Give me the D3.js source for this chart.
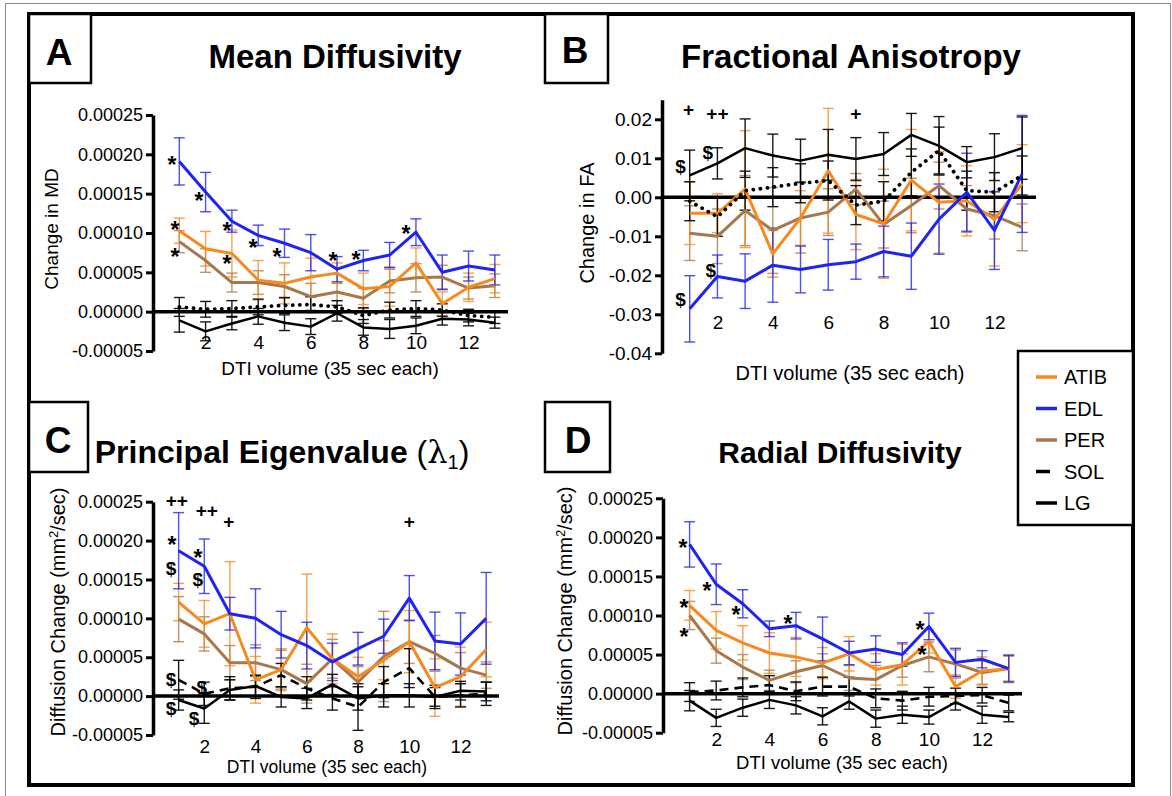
<!DOCTYPE html>
<html>
<head>
<meta charset="UTF-8">
<title>DTI change per muscle</title>
<script src="https://d3js.org/d3.v7.min.js"></script>
<style>
  body { margin: 0; background: #fff; }
  svg { display: block; }
</style>
</head>
<body>
<script>
const FONT = '"Liberation Sans", Arial, Helvetica, sans-serif';

const volumes = d3.range(1, 14);
const xTickValues = [2, 4, 6, 8, 10, 12];
const muscles = ["ATIB", "EDL", "PER", "SOL", "LG"];
const muscleColors = ["#f7891e", "#1f24f2", "#a8774b", "#000000", "#000000"];

// A - Mean Diffusivity (x1e-5)
const mdATIB = [10.3, 8.0, 7.4, 4.0, 3.6, 4.4, 4.9, 2.9, 3.2, 6.2, 1.0, 3.1, 4.2];
const mdATIBErr = [1.6, 2.2, 3.0, 2.5, 2.6, 2.4, 1.3, 2.0, 2.5, 1.9, 1.5, 1.8, 1.8];
const mdEDL = [19.1, 15.2, 11.5, 9.7, 8.7, 7.5, 5.4, 6.5, 7.2, 10.1, 5.0, 5.8, 5.3];
const mdEDLErr = [3.0, 2.5, 1.4, 1.3, 1.8, 2.3, 1.6, 1.3, 1.6, 1.7, 2.2, 1.9, 1.9];
const mdPER = [8.9, 6.5, 3.7, 3.7, 3.2, 1.9, 2.5, 1.7, 3.9, 4.3, 4.4, 3.0, 3.3];
const mdPERErr = [1.4, 1.5, 1.2, 1.5, 1.5, 1.7, 1.1, 1.3, 1.5, 1.8, 1.5, 1.4, 1.5];
const mdSOL = [0.6, 0.3, 0.4, 0.6, 0.8, 0.9, 0.6, -0.5, 0.2, 0.4, 0.2, -0.5, -0.7];
const mdSOLErr = [1.2, 1.0, 1.0, 1.0, 1.0, 1.0, 0.8, 1.0, 1.0, 1.0, 0.8, 0.8, 0.8];
const mdLG = [-1.1, -2.5, -1.5, -0.6, -1.4, -1.9, -0.2, -2.0, -2.2, -1.8, -0.9, -1.0, -1.4];
const mdLGErr = [1.5, 1.2, 0.8, 1.0, 1.0, 1.0, 1.0, 1.0, 1.2, 1.0, 0.8, 0.8, 0.7];
const mdTicks = [-5, 0, 5, 10, 15, 20, 25];
const mdMarks = [[0.72, 19.4, "*"], [1.75, 14.9, "*"], [2.81, 11.0, "*"], [3.8, 8.9, "*"],
  [4.71, 7.8, "*"], [6.84, 7.2, "*"], [7.72, 7.4, "*"], [9.62, 10.7, "*"],
  [0.84, 11.2, "*"], [2.81, 6.8, "*"], [0.84, 7.7, "*"]];

// B - Fractional Anisotropy (x1e-3)
const faATIB = [-4.1, -4.1, 2.1, -14.5, -5.3, 6.8, -4.4, -6.8, 4.4, -1.3, -0.9, -5.6, 3.5];
const faATIBErr = [8.0, 5.0, 15.0, 6.0, 7.0, 16.0, 9.0, 14.0, 13.0, 13.0, 9.0, 12.0, 10.0];
const faEDL = [-28.6, -20.3, -21.5, -17.4, -18.5, -17.3, -16.5, -13.9, -15.1, -5.6, 1.3, -8.5, 6.0];
const faEDLErr = [8.5, 5.5, 7.0, 9.5, 6.0, 6.5, 4.5, 6.5, 8.5, 9.0, 10.0, 10.0, 15.0];
const faPER = [-9.2, -10.0, -3.4, -8.5, -5.3, -3.8, 2.1, -7.0, -2.1, 3.0, -3.0, -4.7, -7.7];
const faPERErr = [7, 7, 9, 11, 9, 6, 4, 6, 7, 6, 6, 6, 6];
const faSOL = [-1.0, -5.0, 1.7, 2.6, 3.6, 4.3, -2.0, -1.0, 6.4, 12.0, 1.7, 1.3, 5.6];
const faSOLErr = [5, 5, 5, 5, 5, 5, 5, 5, 6, 6, 5, 5, 5];
const faLG = [5.6, 8.7, 12.6, 10.7, 9.4, 10.9, 9.8, 11.1, 16.0, 13.2, 9.0, 10.3, 12.6];
const faLGErr = [6.5, 4.0, 7.5, 5.5, 5.5, 6.5, 5.5, 5.5, 5.5, 7.5, 4.0, 6.0, 8.0];
const faTicks = [-40, -30, -20, -10, 0, 10, 20];
const faMarks = [[0.96, 22.5, "+"], [2.0, 21.5, "++"], [7.0, 21.5, "+"], [0.67, 8.1, "$"],
  [1.65, 11.5, "$"], [1.76, -18.8, "$"], [0.67, -26.2, "$"]];

// C - Principal Eigenvalue (x1e-5)
const peATIB = [12.1, 9.3, 10.6, 2.1, 3.4, 8.8, 4.8, 2.5, 4.6, 7.0, 1.1, 2.5, 6.0];
const peATIBErr = [2.4, 3.0, 6.7, 3.0, 2.7, 6.9, 3.2, 2.5, 2.5, 4.0, 3.7, 3.8, 3.5];
const peEDL = [18.7, 16.7, 10.6, 10.0, 7.9, 6.5, 4.4, 6.1, 7.7, 12.6, 7.1, 6.7, 10.0];
const peEDLErr = [4.9, 3.5, 2.1, 3.8, 3.0, 3.0, 2.4, 2.1, 2.2, 2.9, 3.7, 4.0, 5.9];
const pePER = [9.9, 8.0, 4.3, 4.3, 3.4, 1.6, 4.8, 1.8, 5.1, 7.0, 5.5, 3.6, 2.7];
const pePERErr = [2.9, 2.2, 2.2, 2.3, 2.5, 2.5, 2.5, 2.0, 5.8, 2.8, 2.3, 2.0, 1.7];
const peSOL = [2.1, 0.3, 1.0, 1.2, 2.7, 1.0, -0.3, -1.4, 1.8, 3.6, -0.1, 0.1, 0.3];
const peSOLErr = [2.5, 1.5, 1.5, 1.5, 1.5, 1.5, 1.5, 3.0, 2.0, 2.5, 1.5, 1.5, 1.5];
const peLG = [-0.5, -1.6, 0.8, 1.3, -0.1, -0.3, 1.5, -0.3, 0.1, 0.1, -0.1, 0.7, 0.6];
const peLGErr = [1.3, 1.9, 1.3, 1.3, 1.3, 1.3, 1.3, 1.5, 1.5, 1.5, 1.2, 1.2, 1.2];
const peTicks = [-5, 0, 5, 10, 15, 20, 25];
const peMarks = [[0.93, 25.1, "++"], [2.1, 23.8, "++"], [2.96, 22.4, "+"], [10.0, 22.4, "+"],
  [0.74, 20.3, "*"], [0.7, 16.4, "$"], [1.75, 18.6, "*"], [1.75, 15.1, "$"],
  [0.7, 2.2, "$"], [1.9, 1.2, "$"], [0.7, -1.6, "$"], [1.6, -2.8, "$"]];

// D - Radial Diffusivity (x1e-5)
const rdATIB = [11.3, 8.1, 6.5, 5.2, 4.7, 3.9, 5.1, 3.1, 3.7, 6.7, 0.9, 2.9, 3.2];
const rdATIBErr = [1.9, 2.4, 2.2, 2.6, 2.5, 2.0, 2.2, 2.0, 2.6, 1.5, 1.5, 1.8, 1.8];
const rdEDL = [19.1, 14.0, 11.5, 8.3, 8.7, 7.0, 5.2, 5.7, 5.0, 8.6, 4.0, 4.4, 3.2];
const rdEDLErr = [2.9, 2.6, 1.8, 1.0, 1.7, 2.8, 1.5, 1.7, 1.5, 1.7, 1.8, 1.1, 1.7];
const rdPER = [10.0, 5.5, 3.4, 1.7, 2.8, 3.6, 2.0, 1.8, 3.6, 4.7, 3.8, 2.7, 3.2];
const rdPERErr = [1.8, 1.6, 1.6, 1.3, 1.4, 1.5, 1.6, 1.8, 1.5, 1.9, 1.8, 1.5, 1.6];
const rdSOL = [0.2, 0.4, 0.8, 1.1, 0.3, 0.9, 0.9, -0.6, -0.9, -0.4, -0.3, -0.2, -1.2];
const rdSOLErr = [1.2, 1.2, 1.2, 1.2, 1.2, 1.2, 1.2, 1.2, 1.2, 1.2, 1.0, 1.0, 1.0];
const rdLG = [-0.9, -3.1, -1.8, -0.8, -1.5, -2.9, -1.0, -3.2, -2.7, -3.0, -1.1, -2.7, -3.0];
const rdLGErr = [1.3, 1.1, 1.1, 1.1, 1.1, 1.1, 1.0, 1.1, 1.1, 0.9, 1.0, 1.1, 0.6];
const rdTicks = [-5, 0, 5, 10, 15, 20, 25];
const rdMarks = [[0.75, 19.5, "*"], [1.65, 14.0, "*"], [2.74, 10.9, "*"], [4.7, 9.7, "*"],
  [9.66, 8.9, "*"], [0.79, 11.7, "*"], [0.79, 8.0, "*"], [9.74, 5.8, "*"]];

const panels = [
  { letter: "A", title: "Mean Diffusivity", yLabel: "Change in MD", unit: 1e-5, digits: 5,
    series: [mdATIB, mdEDL, mdPER, mdSOL, mdLG], errors: [mdATIBErr, mdEDLErr, mdPERErr, mdSOLErr, mdLGErr],
    ticks: mdTicks, marks: mdMarks, solDash: "dot",
    left: 153, right: 508, yDomain: [-5, 25], yRange: [351, 115], xLabAt: -3.9,
    box: [29, 14, 62, 69], letterPos: [59, 65], titlePos: [335, 68], titleFont: 33,
    yLabPos: [51, 229], xLabPos: [330, 368], tickFont: 18, xTickFont: 19, labFont: 19 },
  { letter: "B", title: "Fractional Anisotropy", yLabel: "Change in FA", unit: 1e-3, digits: 2,
    series: [faATIB, faEDL, faPER, faSOL, faLG], errors: [faATIBErr, faEDLErr, faPERErr, faSOLErr, faLGErr],
    ticks: faTicks, marks: faMarks, solDash: "dot",
    left: 662, right: 1036, yDomain: [-40, 25], yRange: [353.3, 99.8], xLabAt: -32.1,
    box: [545, 14, 63, 69], letterPos: [575, 63], titlePos: [851, 68], titleFont: 33,
    yLabPos: [587, 223], xLabPos: [850, 373], tickFont: 19, xTickFont: 19, labFont: 20 },
  { letter: "C", title: "Principal Eigenvalue", yLabel: "Diffusion Change", unit: 1e-5, digits: 5,
    series: [peATIB, peEDL, pePER, peSOL, peLG], errors: [peATIBErr, peEDLErr, pePERErr, peSOLErr, peLGErr],
    ticks: peTicks, marks: peMarks, solDash: "dash",
    left: 153, right: 499, yDomain: [-5, 25], yRange: [735, 501.7], xLabAt: -6.4,
    box: [29, 402, 59, 70], letterPos: [58, 453], titlePos: [282, 463], titleFont: 32,
    yLabPos: [58, 612], xLabPos: [327, 767], tickFont: 18, xTickFont: 19, labFont: 20 },
  { letter: "D", title: "Radial Diffusivity", yLabel: "Diffusion Change", unit: 1e-5, digits: 5,
    series: [rdATIB, rdEDL, rdPER, rdSOL, rdLG], errors: [rdATIBErr, rdEDLErr, rdPERErr, rdSOLErr, rdLGErr],
    ticks: rdTicks, marks: rdMarks, solDash: "dash",
    left: 663, right: 1022, yDomain: [-5, 25], yRange: [732.7, 498.3], xLabAt: -5.9,
    box: [545, 402, 65, 70], letterPos: [578, 453], titlePos: [840, 463], titleFont: 30,
    yLabPos: [565, 611], xLabPos: [842, 763], tickFont: 18, xTickFont: 19, labFont: 20 }
];

const W = 1172, H = 796;
const svg = d3.select("body").append("svg")
  .attr("width", W).attr("height", H)
  .style("font-family", FONT);

// thin outer page frame
svg.append("rect")
  .attr("x", 5.5).attr("y", 3.5).attr("width", 1165).attr("height", 800)
  .attr("fill", "none").attr("stroke", "#8a8a8a").attr("stroke-width", 1);

// thick figure frame
svg.append("rect")
  .attr("x", 29).attr("y", 14).attr("width", 1104).attr("height", 771)
  .attr("fill", "#fff").attr("stroke", "#000").attr("stroke-width", 4);

function drawPanel(p) {
  const g = svg.append("g");
  const x = d3.scaleLinear().domain([0, 13.5]).range([p.left, p.right]);
  const y = d3.scaleLinear().domain(p.yDomain).range(p.yRange);

  // y axis
  const yAxis = d3.axisLeft(y)
    .tickValues(p.ticks)
    .tickSize(7)
    .tickSizeOuter(0)
    .tickPadding(3)
    .tickFormat(d => (d * p.unit).toFixed(p.digits));
  const ya = g.append("g")
    .attr("transform", `translate(${p.left},0)`)
    .call(yAxis)
    .attr("font-family", FONT)
    .attr("font-size", p.tickFont);
  ya.select(".domain").attr("stroke-width", 3.5);
  ya.selectAll(".tick line").attr("stroke-width", 3);
  ya.selectAll(".tick text").attr("fill", "#000");

  // x tick labels
  const xa = g.append("g")
    .attr("transform", `translate(0,${y(p.xLabAt)})`)
    .call(d3.axisBottom(x).tickValues(xTickValues).tickSize(0).tickPadding(0))
    .attr("font-family", FONT)
    .attr("font-size", p.xTickFont);
  xa.select(".domain").remove();
  xa.selectAll(".tick text").attr("y", 0).attr("dy", "0.35em").attr("fill", "#000");

  // error bars
  const order = [2, 0, 1, 3, 4];
  order.forEach(si => {
    const vals = p.series[si];
    const errs = p.errors[si];
    const color = muscleColors[si];
    const eb = g.append("g").attr("stroke", color).attr("stroke-width", 1.4)
      .attr("stroke-opacity", si < 3 ? 0.8 : 0.9);
    vals.forEach((v, i) => {
      const cx = x(volumes[i]);
      const y1 = y(v + errs[i]), y2 = y(v - errs[i]);
      eb.append("line").attr("x1", cx).attr("x2", cx).attr("y1", y1).attr("y2", y2);
      eb.append("line").attr("x1", cx - 5.5).attr("x2", cx + 5.5).attr("y1", y1).attr("y2", y1);
      eb.append("line").attr("x1", cx - 5.5).attr("x2", cx + 5.5).attr("y1", y2).attr("y2", y2);
    });
  });

  // zero line
  g.append("line")
    .attr("x1", x(0)).attr("x2", x(13.5))
    .attr("y1", y(0)).attr("y2", y(0))
    .attr("stroke", "#000").attr("stroke-width", 3.5);

  const line = d3.line().x((d, i) => x(volumes[i])).y(d => y(d));
  order.forEach(si => {
    const path = g.append("path")
      .datum(p.series[si])
      .attr("d", line)
      .attr("fill", "none")
      .attr("stroke", muscleColors[si])
      .attr("stroke-width", si === 4 ? 2.5 : 3)
      .attr("stroke-linejoin", "round");
    if (si === 3) {
      if (p.solDash === "dot") {
        path.attr("stroke-dasharray", "0.1,7").attr("stroke-linecap", "round").attr("stroke-width", 3.8);
      } else {
        path.attr("stroke-dasharray", "9,6").attr("stroke-width", 2.6);
      }
    }
  });

  // significance marks
  const dyFor = { "*": "0.62em", "$": "0.36em", "+": "0.34em", "++": "0.34em" };
  g.selectAll("text.mark")
    .data(p.marks)
    .join("text")
    .attr("class", "mark")
    .attr("x", d => x(d[0]))
    .attr("y", d => y(d[1]))
    .attr("dy", d => dyFor[d[2]])
    .attr("text-anchor", "middle")
    .attr("font-size", d => d[2] === "*" ? 23 : 19)
    .attr("font-weight", "bold")
    .text(d => d[2]);

  // axis titles
  const yl = g.append("text")
    .attr("transform", `translate(${p.yLabPos[0]},${p.yLabPos[1]}) rotate(-90)`)
    .attr("text-anchor", "middle")
    .attr("dy", "0.35em")
    .attr("font-size", p.labFont);
  yl.append("tspan").text(p.yLabel);
  if (p.yLabel === "Diffusion Change") {
    yl.append("tspan").text(" (mm");
    yl.append("tspan").text("2").attr("font-size", p.labFont * 0.62).attr("dy", "-0.55em");
    yl.append("tspan").text("/sec)").attr("dy", "0.34em");
  }

  g.append("text")
    .attr("x", p.xLabPos[0]).attr("y", p.xLabPos[1])
    .attr("dy", "0.35em")
    .attr("text-anchor", "middle")
    .attr("font-size", p.labFont - (p.letter === "C" ? 2.5 : p.letter === "D" ? 1.5 : 0))
    .text("DTI volume (35 sec each)");

  // panel letter box
  g.append("rect")
    .attr("x", p.box[0]).attr("y", p.box[1])
    .attr("width", p.box[2]).attr("height", p.box[3])
    .attr("fill", "#fff").attr("stroke", "#000").attr("stroke-width", 2.5);
  g.append("text")
    .attr("x", p.letterPos[0]).attr("y", p.letterPos[1])
    .attr("text-anchor", "middle")
    .attr("font-size", 37).attr("font-weight", "bold")
    .text(p.letter);

  // panel title
  const t = g.append("text")
    .attr("x", p.titlePos[0]).attr("y", p.titlePos[1])
    .attr("text-anchor", "middle")
    .attr("font-size", p.titleFont).attr("font-weight", "bold");
  t.append("tspan").text(p.title);
  if (p.letter === "C") {
    t.append("tspan").text(" (").attr("font-weight", "normal");
    t.append("tspan").text("λ").attr("font-weight", "normal").attr("font-family", "DejaVu Serif");
    t.append("tspan").text("1").attr("font-size", 20).attr("font-weight", "normal").attr("dy", "0.3em");
    t.append("tspan").text(")").attr("font-weight", "normal").attr("dy", "-0.2em");
  }
}

panels.forEach(drawPanel);

// legend
const legend = svg.append("g");
legend.append("rect")
  .attr("x", 1018).attr("y", 351).attr("width", 115).attr("height", 174)
  .attr("fill", "#fff").attr("stroke", "#000").attr("stroke-width", 2.5);
const legendY = d3.scalePoint().domain(muscles).range([377, 503]);
muscles.forEach((m, i) => {
  const yy = legendY(m);
  legend.append("line")
    .attr("x1", 1036).attr("x2", m === "SOL" ? 1050 : 1057)
    .attr("y1", yy).attr("y2", yy)
    .attr("stroke", muscleColors[i]).attr("stroke-width", 3.5);
  legend.append("text")
    .attr("x", 1064).attr("y", yy)
    .attr("dy", "0.36em")
    .attr("font-size", 20)
    .text(m);
});
</script>
</body>
</html>
